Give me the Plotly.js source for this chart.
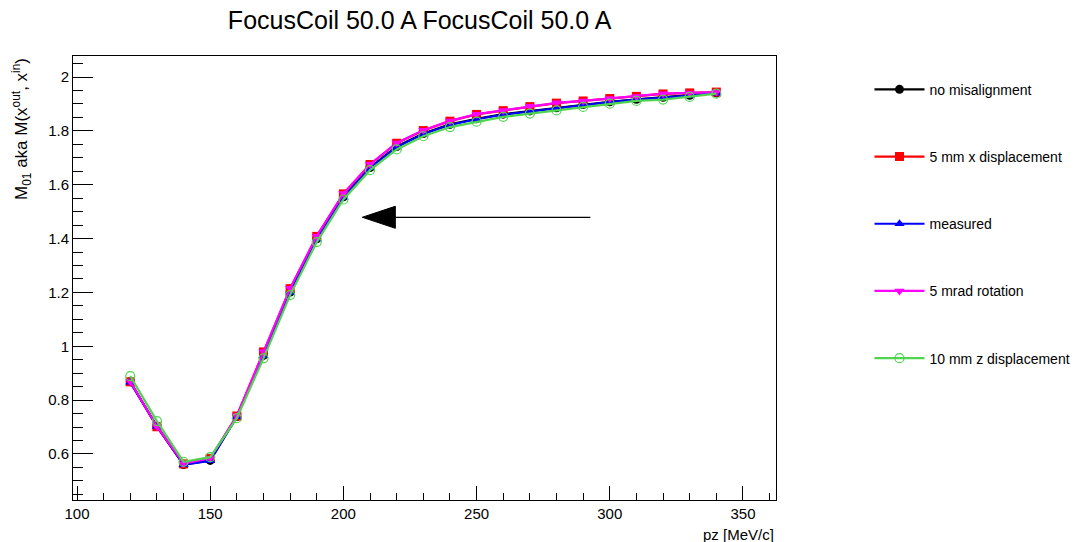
<!DOCTYPE html>
<html>
<head>
<meta charset="utf-8">
<script src="https://cdn.plot.ly/plotly-3.0.1.min.js"></script>
<style>html,body{margin:0;padding:0;background:#fff;}#chart{width:1076px;height:542px;}</style>
</head>
<body>
<div id="chart"></div>
<script>
const pz = [120,130,140,150,160,170,180,190,200,210,220,230,240,250,260,270,280,290,300,310,320,330,340];

const noMisalignment = [0.868,0.703,0.561,0.576,0.739,0.966,1.201,1.399,1.555,1.664,1.742,1.790,1.824,1.845,1.862,1.874,1.886,1.898,1.908,1.917,1.925,1.932,1.941];
const xDisplacement5mm = [0.868,0.701,0.563,0.583,0.741,0.979,1.214,1.408,1.566,1.675,1.754,1.801,1.836,1.861,1.875,1.890,1.903,1.911,1.920,1.928,1.937,1.941,1.944];
const measured = [0.866,0.702,0.560,0.575,0.738,0.965,1.200,1.398,1.553,1.662,1.740,1.788,1.822,1.843,1.860,1.872,1.884,1.897,1.907,1.916,1.923,1.931,1.940];
const rotation5mrad = [0.869,0.702,0.564,0.584,0.742,0.980,1.215,1.409,1.567,1.676,1.755,1.802,1.837,1.862,1.876,1.891,1.904,1.911,1.920,1.928,1.938,1.941,1.944];
const zDisplacement10mm = [0.889,0.722,0.571,0.588,0.733,0.955,1.190,1.387,1.545,1.654,1.731,1.780,1.814,1.834,1.852,1.864,1.876,1.889,1.901,1.911,1.916,1.926,1.938];

const seriesNames = ['no misalignment','5 mm x displacement','measured','5 mrad rotation','10 mm z displacement'];
const seriesData = [noMisalignment, xDisplacement5mm, measured, rotation5mrad, zDisplacement10mm];
const seriesColors = ['#000000','#ff0000','#0000ff','#ff00ff','#4fd44f'];
const seriesSymbols = ['circle','square','triangle-up','triangle-down','circle-open'];

const arrowTail = [292.7, 1.479];
const arrowTip = [207.1, 1.479];

const traces = seriesNames.map((name, i) => ({
  type: 'scatter',
  mode: 'lines+markers',
  name: name,
  x: pz,
  y: seriesData[i],
  legendgroup: 'g' + i,
  line: {color: seriesColors[i], width: 2.2},
  marker: {color: seriesColors[i], symbol: seriesSymbols[i], size: 9,
           line: {color: seriesColors[i], width: i === 4 ? 1.2 : 0}}
}));

const headLen = 12.4, headHalf = 0.041;
const layout = {
  width: 1076, height: 542,
  margin: {l: 73, r: 300, t: 56, b: 42, autoexpand: false},
  paper_bgcolor: '#ffffff', plot_bgcolor: '#ffffff',
  font: {family: 'Liberation Sans, Arial, sans-serif', color: '#000', size: 15},
  title: {text: 'FocusCoil 50.0 A FocusCoil 50.0 A', xref: 'container', x: 0.39, xanchor: 'center',
          y: 0.963, yanchor: 'middle', font: {size: 25, color: '#000'}},
  xaxis: {range: [98.5, 362.4], showgrid: false, zeroline: false, showline: true, mirror: true,
          linecolor: '#000', linewidth: 1, ticks: 'inside', ticklen: 14, tickcolor: '#000',
          dtick: 50, tick0: 100, tickfont: {size: 15},
          minor: {ticks: 'inside', ticklen: 7, dtick: 10, tickcolor: '#000', showgrid: false}},
  yaxis: {range: [0.429, 2.078], showgrid: false, zeroline: false, showline: true, mirror: true,
          linecolor: '#000', linewidth: 1, ticks: 'inside', ticklen: 20, tickcolor: '#000',
          dtick: 0.2, tick0: 0, tickfont: {size: 15},
          minor: {ticks: 'inside', ticklen: 10, dtick: 0.05, tickcolor: '#000', showgrid: false}},
  showlegend: true,
  legend: {x: 1.133, xanchor: 'left', y: 0.96, yanchor: 'top', tracegroupgap: 46,
           font: {size: 14}, bgcolor: 'rgba(0,0,0,0)', itemwidth: 50},
  annotations: [
    {text: 'M<sub>01</sub> aka M(x<sup>out</sup>, x<sup>in</sup>)', textangle: -90,
     xref: 'paper', yref: 'paper', x: -0.074, xanchor: 'center', y: 1.0, yanchor: 'top',
     showarrow: false, font: {size: 17}},
    {text: 'pz [MeV/c]', xref: 'paper', yref: 'paper', x: 1.0, xanchor: 'right',
     y: -0.054, yanchor: 'top', showarrow: false, font: {size: 15}}
  ],
  shapes: [
    {type: 'line', xref: 'x', yref: 'y', x0: arrowTip[0] + headLen, y0: arrowTip[1],
     x1: arrowTail[0], y1: arrowTail[1], line: {color: '#000', width: 1.2}},
    {type: 'path', xref: 'x', yref: 'y',
     path: 'M' + arrowTip[0] + ',' + arrowTip[1] + ' L' + (arrowTip[0] + headLen) + ',' + (arrowTip[1] + headHalf) +
           ' L' + (arrowTip[0] + headLen) + ',' + (arrowTip[1] - headHalf) + ' Z',
     fillcolor: '#000', line: {color: '#000', width: 1}}
  ]
};

Plotly.newPlot('chart', traces, layout, {displayModeBar: false, staticPlot: true});
</script>
</body>
</html>
